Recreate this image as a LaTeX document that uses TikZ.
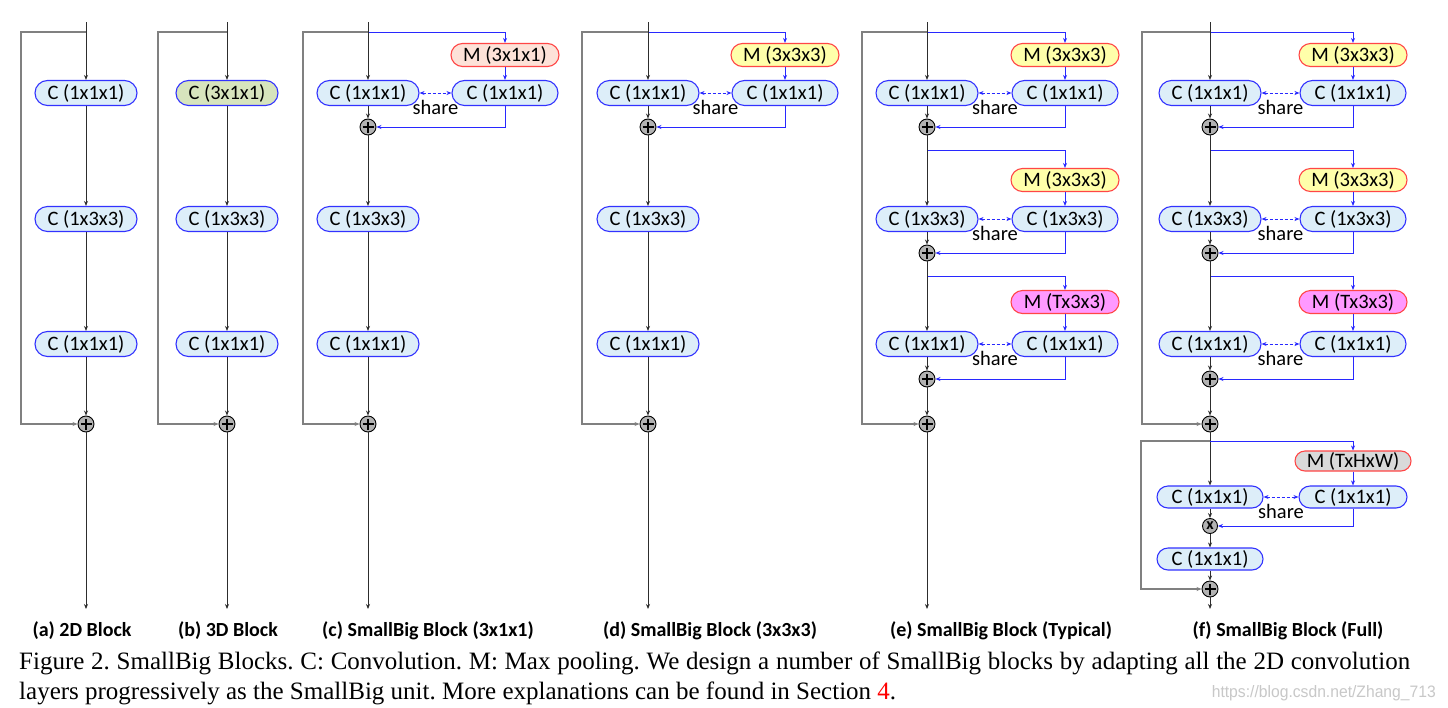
\documentclass[tikz,border=0pt]{standalone}
\usepackage{fontspec}
\setmainfont{Liberation Serif}
\newfontfamily\carlito{Carlito}
\newfontfamily\wmfont{Liberation Sans}
\usetikzlibrary{arrows.meta,calc}
\definecolor{cfill}{RGB}{221,238,249}
\definecolor{cedge}{RGB}{50,50,255}
\definecolor{medge}{RGB}{255,70,70}
\definecolor{mpeach}{RGB}{253,226,216}
\definecolor{myellow}{RGB}{255,255,170}
\definecolor{mmag}{RGB}{255,153,255}
\definecolor{mgray}{RGB}{217,217,217}
\definecolor{gfill}{RGB}{215,228,189}
\definecolor{blueline}{RGB}{40,40,255}
\definecolor{skipgray}{RGB}{128,128,128}
\definecolor{mainline}{RGB}{45,45,45}
\definecolor{wmgray}{RGB}{200,200,200}
\tikzset{
  tip/.tip={Stealth[length=5pt,width=4pt]},
  cbox/.style={draw=cedge,fill=cfill,line width=1.1,rounded corners=12.5pt,minimum width=102,minimum height=25,inner sep=0,font=\carlito\fontsize{20.5}{20.5}\selectfont},
  rbox/.style={minimum width=106},
  mbox/.style={draw=medge,line width=1.1,rounded corners=11.5pt,minimum width=108,minimum height=23,inner sep=0,font=\carlito\fontsize{20.5}{20.5}\selectfont},
  plusn/.style={circle,draw=black,line width=0.9,fill=black!30,minimum size=16,inner sep=0,
    path picture={\draw[line width=2.2] ([xshift=-5.5pt]path picture bounding box.center) -- ([xshift=5.5pt]path picture bounding box.center) ([yshift=-5.5pt]path picture bounding box.center) -- ([yshift=5.5pt]path picture bounding box.center);}},
  timesn/.style={circle,draw=black,line width=0.9,fill=black!30,minimum size=15,inner sep=0,font=\carlito\bfseries\fontsize{16}{16}\selectfont},
  mainl/.style={draw=mainline,line width=0.9,-tip},
  skipl/.style={draw=skipgray,line width=1.5,-tip},
  bluel/.style={draw=blueline,line width=1,-tip},
  sharel/.style={draw=blueline,line width=1,dashed,dash pattern=on 3pt off 2pt,tip-tip},
  sharet/.style={inner sep=0,font=\carlito\fontsize{20.5}{20.5}\selectfont},
  lab/.style={inner sep=0,font=\carlito\bfseries\fontsize{20}{20}\selectfont},
}
\begin{document}
\begin{tikzpicture}[x=1pt,y=-1pt]
\useasboundingbox[fill=white] (0,0) rectangle (1448,707);

% ---------- (a) ----------
\coordinate (a-top) at (86,22);
\coordinate (a-s) at (86,32);
\coordinate (a-sl) at (21,32);
\node[cbox] (a1) at (86,93) {C (1x1x1)};
\node[cbox] (a2) at (86,219) {C (1x3x3)};
\node[cbox] (a3) at (86,344) {C (1x1x1)};
\node[plusn] (a-pp) at (86,424) {};
\coordinate (a-end) at (86,609);
\draw[mainl] (a-top) -- (a1);
\draw[mainl] (a1) -- (a2);
\draw[mainl] (a2) -- (a3);
\draw[mainl] (a3) -- (a-pp);
\draw[mainl] (a-pp) -- (a-end);
\draw[skipl] (a-s) -- (a-sl) |- (a-pp);

% ---------- (b) ----------
\coordinate (b-top) at (227,22);
\coordinate (b-s) at (227,32);
\coordinate (b-sl) at (158,32);
\node[cbox,fill=gfill] (b1) at (227,93) {C (3x1x1)};
\node[cbox] (b2) at (227,219) {C (1x3x3)};
\node[cbox] (b3) at (227,344) {C (1x1x1)};
\node[plusn] (b-pp) at (227,424) {};
\coordinate (b-end) at (227,609);
\draw[mainl] (b-top) -- (b1);
\draw[mainl] (b1) -- (b2);
\draw[mainl] (b2) -- (b3);
\draw[mainl] (b3) -- (b-pp);
\draw[mainl] (b-pp) -- (b-end);
\draw[skipl] (b-s) -- (b-sl) |- (b-pp);

% ---------- SmallBig units ----------
\foreach \n/\mx/\rx/\by/\my/\cy/\py/\mf/\mt/\ct in {
  c1/368/505/32/55/93/127/mpeach/{M (3x1x1)}/{C (1x1x1)},
  d1/648/785/32/55/93/127/myellow/{M (3x3x3)}/{C (1x1x1)},
  e1/927/1065/32/55/93/127/myellow/{M (3x3x3)}/{C (1x1x1)},
  e2/927/1065/150/180/219/253/myellow/{M (3x3x3)}/{C (1x3x3)},
  e3/927/1065/276/302/344/379/mmag/{M (Tx3x3)}/{C (1x1x1)},
  f1/1210/1353/32/55/93/127/myellow/{M (3x3x3)}/{C (1x1x1)},
  f2/1210/1353/150/180/219/253/myellow/{M (3x3x3)}/{C (1x3x3)},
  f3/1210/1353/276/302/344/379/mmag/{M (Tx3x3)}/{C (1x1x1)}}{
  \coordinate (\n-b) at (\mx,\by);
  \node[mbox,fill=\mf] (\n-m) at (\rx,\my) {\mt};
  \node[cbox] (\n-l) at (\mx,\cy) {\ct};
  \node[cbox,rbox] (\n-r) at (\rx,\cy) {\ct};
  \node[plusn] (\n-p) at (\mx,\py) {};
  \draw[bluel] (\n-b) -| (\n-m);
  \draw[bluel] (\n-m) -- (\n-r);
  \draw[bluel] (\n-r) |- (\n-p);
  \draw[sharel] (\n-l) -- (\n-r);
  \node[sharet] (\n-s) at ($(\n-l.east)!0.5!(\n-r.west)+(0,14)$) {share};
  \draw[mainl] (\n-l) -- (\n-p);
}

% ---------- (c) ----------
\coordinate (c-top) at (368,22);
\coordinate (c-sl) at (303,32);
\node[cbox] (c2) at (368,219) {C (1x3x3)};
\node[cbox] (c3) at (368,344) {C (1x1x1)};
\node[plusn] (c-pp) at (368,424) {};
\coordinate (c-end) at (368,609);
\draw[mainl] (c-top) -- (c1-l);
\draw[mainl] (c1-p) -- (c2);
\draw[mainl] (c2) -- (c3);
\draw[mainl] (c3) -- (c-pp);
\draw[mainl] (c-pp) -- (c-end);
\draw[skipl] (c1-b) -- (c-sl) |- (c-pp);

% ---------- (d) ----------
\coordinate (d-top) at (648,22);
\coordinate (d-sl) at (582,32);
\node[cbox] (d2) at (648,219) {C (1x3x3)};
\node[cbox] (d3) at (648,344) {C (1x1x1)};
\node[plusn] (d-pp) at (648,424) {};
\coordinate (d-end) at (648,609);
\draw[mainl] (d-top) -- (d1-l);
\draw[mainl] (d1-p) -- (d2);
\draw[mainl] (d2) -- (d3);
\draw[mainl] (d3) -- (d-pp);
\draw[mainl] (d-pp) -- (d-end);
\draw[skipl] (d1-b) -- (d-sl) |- (d-pp);

% ---------- (e) ----------
\coordinate (e-top) at (927,22);
\coordinate (e-sl) at (862,32);
\node[plusn] (e-pp) at (927,424) {};
\coordinate (e-end) at (927,609);
\draw[mainl] (e-top) -- (e1-l);
\draw[mainl] (e1-p) -- (e2-l);
\draw[mainl] (e2-p) -- (e3-l);
\draw[mainl] (e3-p) -- (e-pp);
\draw[mainl] (e-pp) -- (e-end);
\draw[skipl] (e1-b) -- (e-sl) |- (e-pp);

% ---------- (f) ----------
\coordinate (f-top) at (1210,22);
\coordinate (f-sl) at (1142,32);
\node[plusn] (f-pp) at (1210,424) {};
\draw[mainl] (f-top) -- (f1-l);
\draw[mainl] (f1-p) -- (f2-l);
\draw[mainl] (f2-p) -- (f3-l);
\draw[mainl] (f3-p) -- (f-pp);
\draw[skipl] (f1-b) -- (f-sl) |- (f-pp);
\coordinate (f4-b) at (1210,441);
\coordinate (f-sl2) at (1141,441);
\node[mbox,fill=mgray,minimum width=116,minimum height=20,rounded corners=10pt] (f4-m) at (1353,461) {M (TxHxW)};
\node[cbox,minimum height=22,rounded corners=11pt,minimum width=106] (f4-l) at (1210,497) {C (1x1x1)};
\node[cbox,minimum height=22,rounded corners=11pt,minimum width=108] (f4-r) at (1353,497) {C (1x1x1)};
\node[timesn] (f4-x) at (1210,526) {x};
\node[cbox,minimum height=22,rounded corners=11pt,minimum width=106] (f5) at (1210,559) {C (1x1x1)};
\node[plusn] (f-pp2) at (1210,589) {};
\coordinate (f-end) at (1210,609);
\draw[mainl] (f-pp) -- (f4-l);
\draw[mainl] (f4-l) -- (f4-x);
\draw[mainl] (f4-x) -- (f5);
\draw[mainl] (f5) -- (f-pp2);
\draw[mainl] (f-pp2) -- (f-end);
\draw[skipl] (f4-b) -- (f-sl2) |- (f-pp2);
\draw[bluel] (f4-b) -| (f4-m);
\draw[bluel] (f4-m) -- (f4-r);
\draw[bluel] (f4-r) |- (f4-x);
\draw[sharel] (f4-l) -- (f4-r);
\node[sharet] (f4-s) at ($(f4-l.east)!0.5!(f4-r.west)+(0,14)$) {share};

% ---------- labels ----------
\node[lab] (la) at (82,631) {(a) 2D Block};
\node[lab] (lb) at (228,631) {(b) 3D Block};
\node[lab] (lc) at (428,631) {(c) SmallBig Block (3x1x1)};
\node[lab] (ld) at (710,631) {(d) SmallBig Block (3x3x3)};
\node[lab] (le) at (1001,631) {(e) SmallBig Block (Typical)};
\node[lab] (lf) at (1288,631) {(f) SmallBig Block (Full)};

% ---------- caption ----------
\node[anchor=base west,inner sep=0,font=\fontsize{25}{28}\selectfont\frenchspacing] (cap1) at (19,669)
  {\makebox[1391pt][s]{Figure 2. SmallBig Blocks. C: Convolution. M: Max pooling. We design a number of SmallBig blocks by adapting all the 2D convolution}};
\node[anchor=base west,inner sep=0,font=\fontsize{25}{28}\selectfont\frenchspacing] (cap2) at (19,699)
  {layers progressively as the SmallBig unit. More explanations can be found in Section \textcolor{red}{4}.};
\node[anchor=base east,inner sep=0,text=wmgray] (wm) at (1436,697)
  {\resizebox{224pt}{12pt}{\wmfont https://blog.csdn.net/Zhang\_713}};
\end{tikzpicture}
\end{document}
